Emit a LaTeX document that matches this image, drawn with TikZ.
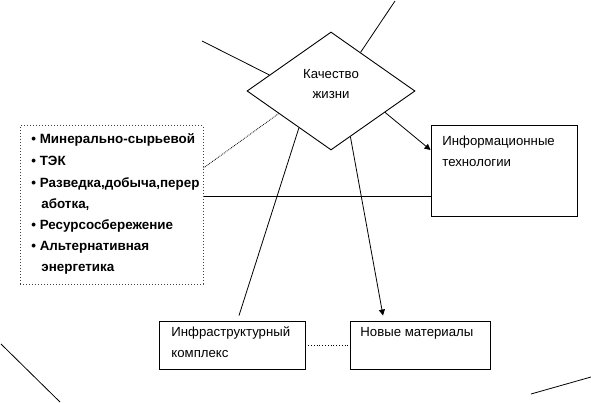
\documentclass[tikz,border=0pt]{standalone}
\usepackage{fontspec}
\setmainfont{Liberation Sans}
\usetikzlibrary{shapes.geometric,calc,arrows.meta}
\begin{document}
\begin{tikzpicture}[x=1pt,y=-1pt,
  line width=0.8pt,
  box/.style={draw=black,line width=0.9pt,rectangle,inner sep=0pt},
  dotbox/.style={draw=black!75,dotted,line width=1pt,rectangle,inner sep=0pt},
  txt/.style={anchor=west,inner sep=0pt,font=\fontsize{13.2}{15}\selectfont,text height=1.5ex,text depth=0.25ex},
  btxt/.style={txt,font=\fontsize{13.4}{15}\selectfont\bfseries},
  conn/.style={draw=black,line width=0.8pt},
  arr/.style={conn,-{Triangle[length=6pt,width=6pt]}}
]
\useasboundingbox (0,0) rectangle (591,403);

% diamond
\node[draw=black,line width=0.9pt,diamond,aspect=1.42,minimum width=168pt,minimum height=118pt,inner sep=0pt] (q) at (331,91) {};
\node[txt,anchor=center] (q1) at (331,75) {Качество};
\node[txt,anchor=center] (q2) at (331,95) {жизни};

% left box
\node[dotbox,minimum width=183pt,minimum height=158pt] (res) at (111.5,205) {};
\node[btxt] (b1) at (31,140) {• Минерально-сырьевой};
\node[btxt] (b2) at (31,162) {• ТЭК};
\node[btxt] (b3) at (31,184) {• Разведка,добыча,перер};
\node[btxt] (b4) at (41,205) {аботка,};
\node[btxt] (b5) at (31,226) {• Ресурсосбережение};
\node[btxt] (b6) at (31,247) {• Альтернативная};
\node[btxt] (b7) at (41,268) {энергетика};

% right box
\node[box,minimum width=146pt,minimum height=91pt] (it) at (504,170.5) {};
\node[txt] (it1) at (442,142) {Информационные};
\node[txt] (it2) at (442,163) {технологии};

% bottom boxes
\node[box,minimum width=146pt,minimum height=48pt] (inf) at (232,345) {};
\node[txt] (inf1) at (171,333) {Инфраструктурный};
\node[txt] (inf2) at (171,354) {комплекс};
\node[box,minimum width=140pt,minimum height=48pt] (mat) at (420,345) {};
\node[txt] (mat1) at (360,333) {Новые материалы};

% free ends
\coordinate (tl) at (202,41);
\coordinate (tr) at (395,1);
\coordinate (bl1) at (1,344);
\coordinate (bl2) at (60,402);
\coordinate (br1) at (531,394);
\coordinate (br2) at (591,377);

% connectors
\draw[conn] (tl) -- ($(q.west)!0.27!(q.north)$);
\draw[conn] (tr) -- ($(q.north)!0.35!(q.east)$);
\draw[conn,densely dotted] ([yshift=37pt]res.east) -- ($(q.west)!0.38!(q.south)$);
\draw[conn] ([yshift=9pt]res.east) -- ([yshift=9pt]res.east -| it.west);
\draw[arr] ($(q.south)!0.64!(q.east)$) -- ([yshift=20.5pt]it.west);
\draw[conn] ($(q.west)!0.62!(q.south)$) -- ([xshift=7pt,yshift=5pt]inf.north);
\draw[arr] ($(q.south)!0.23!(q.east)$) -- ([xshift=-37pt,yshift=5pt]mat.north);
\draw[conn,dotted] (inf.east) -- (mat.west);
\draw[conn] (bl1) -- (bl2);
\draw[conn] (br1) -- (br2);
\end{tikzpicture}
\end{document}
